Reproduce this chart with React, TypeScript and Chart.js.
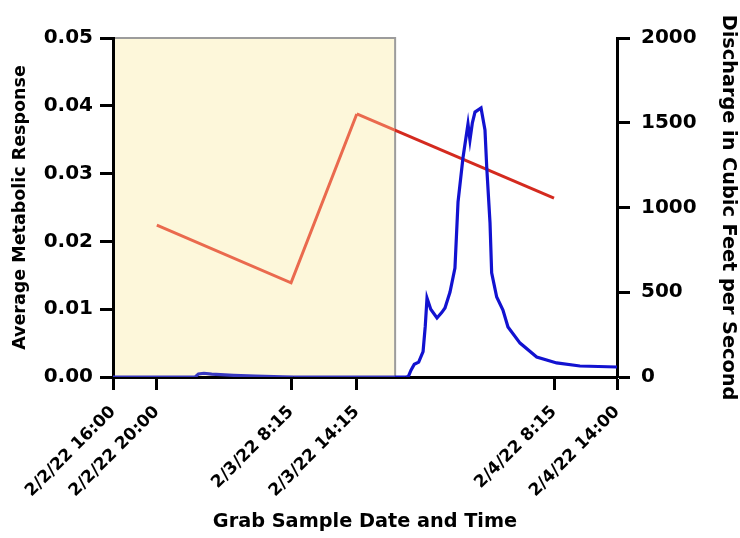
import React, { useEffect, useRef } from "react";
import { Chart, registerables } from "chart.js";

Chart.register(...registerables);

// x values are hours after 2/2/22 16:00
const tickHours = [0, 4, 16.25, 22.25, 40.25, 46];
const tickLabels = [
  "2/2/22 16:00",
  "2/2/22 20:00",
  "2/3/22 8:15",
  "2/3/22 14:15",
  "2/4/22 8:15",
  "2/4/22 14:00",
];

const sampleHours = [4, 16.25, 22.25, 40.25];
const metabolicResponse = [0.0224, 0.0139, 0.0388, 0.0264];

const dischargeHours = [
  0, 7.5, 7.8, 8.3, 9, 11, 13, 15.5, 16.5, 26.7, 26.95, 27.2, 27.5, 27.9, 28.3,
  28.5, 28.66, 29.0, 29.57, 30.0, 30.3, 30.76, 31.21, 31.49, 31.94, 32.4, 32.58,
  32.8, 33.04, 33.59, 33.95, 34.11, 34.41, 34.56, 35.02, 35.59, 36.05, 37.15,
  38.67, 40.49, 42.62, 46,
];
const dischargeCfs = [
  0, 0, 18, 22, 17, 10, 5, 1, 0, 0, 2, 40, 75, 88, 150, 300, 466, 400, 348, 380,
  407, 501, 643, 1032, 1292, 1493, 1398, 1500, 1563, 1587, 1457, 1239, 909, 614,
  472, 395, 295, 200, 118, 83, 65, 59,
];

const shadeStartHour = 0;
const shadeEndHour = 25.75;

const RED = "#d42a1f";
const SALMON = "#ea6a4e";
const BLUE = "#1212d0";
const BLUE_IN = "#3838c0";
const CREAM = "#fdf7da";

function splitColor(inside: string, outside: string) {
  return (ctx: any) => {
    const chart = ctx.chart;
    const sx = chart.scales.x.getPixelForValue(shadeEndHour);
    const x0 = ctx.p0.x;
    const x1 = ctx.p1.x;
    if (x1 <= sx) return inside;
    if (x0 >= sx) return outside;
    const g = chart.ctx.createLinearGradient(x0, 0, x1, 0);
    const t = (sx - x0) / (x1 - x0);
    g.addColorStop(0, inside);
    g.addColorStop(t, inside);
    g.addColorStop(Math.min(1, t + 0.0001), outside);
    g.addColorStop(1, outside);
    return g;
  };
}

const shadePlugin = {
  id: "shade",
  beforeDraw(chart: any) {
    const { ctx, chartArea, scales } = chart;
    const x0 = scales.x.getPixelForValue(shadeStartHour);
    const x1 = scales.x.getPixelForValue(shadeEndHour);
    ctx.save();
    ctx.fillStyle = CREAM;
    ctx.fillRect(x0, chartArea.top, x1 - x0, chartArea.bottom - chartArea.top);
    ctx.strokeStyle = "#9c9c9c";
    ctx.lineWidth = 2;
    ctx.beginPath();
    ctx.moveTo(x0, chartArea.top);
    ctx.lineTo(x1, chartArea.top);
    ctx.lineTo(x1, chartArea.bottom);
    ctx.stroke();
    ctx.restore();
  },
};

export default function App() {
  const ref = useRef<HTMLCanvasElement>(null);

  useEffect(() => {
    if (!ref.current) return;
    document.body.style.margin = "0";
    Chart.defaults.font.family = "'DejaVu Sans', sans-serif";
    Chart.defaults.font.weight = "bold";
    Chart.defaults.color = "#000";

    const chart = new Chart(ref.current, {
      type: "line",
      data: {
        datasets: [
          {
            label: "Discharge",
            data: dischargeHours.map((h, i) => ({ x: h, y: dischargeCfs[i] })),
            yAxisID: "y1",
            borderColor: BLUE,
            borderWidth: 3.2,
            pointRadius: 0,
            tension: 0,
            order: 0,
            segment: { borderColor: splitColor(BLUE_IN, BLUE) },
          },
          {
            label: "Metabolic",
            data: sampleHours.map((h, i) => ({ x: h, y: metabolicResponse[i] })),
            yAxisID: "y",
            borderColor: RED,
            borderWidth: 3,
            pointRadius: 0,
            tension: 0,
            order: 1,
            segment: { borderColor: splitColor(SALMON, RED) },
          },
        ],
      },
      options: {
        responsive: false,
        animation: false,
        layout: { padding: { top: 38, left: 0, right: 0, bottom: 0 } },
        plugins: {
          legend: { display: false },
          tooltip: { enabled: false },
          title: { display: false },
        },
        scales: {
          x: {
            type: "linear",
            position: "bottom",
            min: 0,
            max: 46,
            afterBuildTicks: (s: any) => {
              s.ticks = tickHours.map((v) => ({ value: v }));
            },
            afterFit: (s: any) => {
              s.height = 161;
            },
            ticks: {
              autoSkip: false,
              maxRotation: 45,
              minRotation: 45,
              padding: 12,
              color: "#000",
              font: { size: 17, weight: "bold" },
              callback: (v: any) => {
                const i = tickHours.indexOf(Number(v));
                return i >= 0 ? tickLabels[i] : "";
              },
            },
            grid: {
              drawOnChartArea: false,
              drawTicks: true,
              tickLength: 13,
              tickWidth: 3,
              tickColor: "#000",
              color: "#000",
            },
            border: { display: true, color: "#000", width: 3 },
            title: {
              display: true,
              text: "Grab Sample Date and Time",
              color: "#000",
              font: { size: 19.3, weight: "bold" },
              padding: { top: 0, bottom: 4 },
            },
          },
          y: {
            type: "linear",
            position: "left",
            min: 0,
            max: 0.05,
            afterFit: (s: any) => {
              s.width = 113;
            },
            ticks: {
              stepSize: 0.01,
              padding: 7,
              color: "#000",
              font: { size: 20, weight: "bold" },
              callback: (v: any) => Number(v).toFixed(2),
            },
            grid: {
              drawOnChartArea: false,
              drawTicks: true,
              tickLength: 13,
              tickWidth: 3,
              tickColor: "#000",
              color: "#000",
            },
            border: { display: true, color: "#000", width: 3 },
            title: {
              display: true,
              text: "Average Metabolic Response",
              color: "#000",
              font: { size: 17.5, weight: "bold" },
              padding: { top: 10, bottom: 0 },
            },
          },
          y1: {
            type: "linear",
            position: "right",
            min: 0,
            max: 2000,
            afterFit: (s: any) => {
              s.width = 123;
            },
            ticks: {
              stepSize: 500,
              padding: 11,
              color: "#000",
              font: { size: 20, weight: "bold" },
              callback: (v: any) => String(Math.round(Number(v))),
            },
            grid: {
              drawOnChartArea: false,
              drawTicks: true,
              tickLength: 13,
              tickWidth: 3,
              tickColor: "#000",
              color: "#000",
            },
            border: { display: true, color: "#000", width: 3 },
            title: {
              display: true,
              text: "Discharge in Cubic Feet per Second",
              color: "#000",
              font: { size: 19.3, weight: "bold" },
              padding: { top: 0, bottom: 0 },
            },
          },
        },
      },
      plugins: [shadePlugin],
    } as any);

    return () => chart.destroy();
  }, []);

  return (
    <div style={{ position: "absolute", left: 0, top: 0, width: 740, height: 538 }}>
      <canvas ref={ref} width={740} height={538} />
    </div>
  );
}
